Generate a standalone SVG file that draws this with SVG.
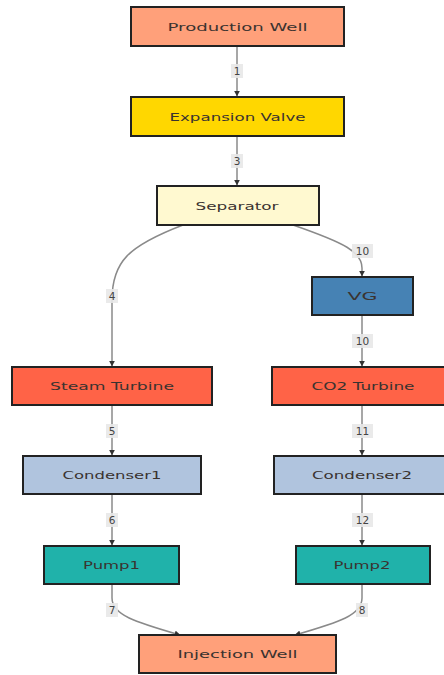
<svg xmlns="http://www.w3.org/2000/svg" width="444" height="675" viewBox="0 0 444 675">
<defs>
<style>
.node rect{stroke:#222;stroke-width:2}
.node text{font-family:"DejaVu Sans",Verdana,sans-serif;font-size:11px;fill:#3a3330;text-anchor:middle}
.edge{fill:none;stroke:#8a8a8a;stroke-width:1.5}
.lbl rect{fill:#e8e8e8;opacity:0.9}
.lbl text{font-family:"DejaVu Sans",Verdana,sans-serif;font-size:10.5px;fill:#444;text-anchor:middle}
</style>
<marker id="arr" viewBox="0 0 10 10" refX="9" refY="5" markerWidth="6" markerHeight="6" markerUnits="userSpaceOnUse" orient="auto">
<path d="M0,0 L10,5 L0,10 z" fill="#333"/>
</marker>
</defs>
<rect width="444" height="675" fill="#ffffff"/>
<g id="connectors">
<path class="edge" d="M237,46 L237,96" marker-end="url(#arr)"/>
<path class="edge" d="M237,136 L237,185" marker-end="url(#arr)"/>
<path class="edge" d="M183,225 C128,246 112,262 112,300 L112,366" marker-end="url(#arr)"/>
<path class="edge" d="M293,225 C345,243 362,252 362,268 L362,276" marker-end="url(#arr)"/>
<path class="edge" d="M362,315 L362,366" marker-end="url(#arr)"/>
<path class="edge" d="M112,405 L112,455" marker-end="url(#arr)"/>
<path class="edge" d="M362,405 L362,455" marker-end="url(#arr)"/>
<path class="edge" d="M112,494 L112,545" marker-end="url(#arr)"/>
<path class="edge" d="M362,494 L362,545" marker-end="url(#arr)"/>
<path class="edge" d="M112,584 L112,598 C112,615 135,622 180,635" marker-end="url(#arr)"/>
<path class="edge" d="M362,584 L362,598 C362,615 340,622 295,635" marker-end="url(#arr)"/>
<g class="lbl"><rect x="231" y="64" width="12" height="14"/><text x="237" y="75">1</text></g>
<g class="lbl"><rect x="231" y="154" width="12" height="14"/><text x="237" y="165">3</text></g>
<g class="lbl"><rect x="106" y="289" width="12" height="14"/><text x="112" y="300">4</text></g>
<g class="lbl"><rect x="352" y="244" width="21" height="14"/><text x="362.5" y="255">10</text></g>
<g class="lbl"><rect x="352" y="334" width="21" height="14"/><text x="362.5" y="345">10</text></g>
<g class="lbl"><rect x="106" y="424" width="12" height="14"/><text x="112" y="435">5</text></g>
<g class="lbl"><rect x="352" y="424" width="21" height="14"/><text x="362.5" y="435">11</text></g>
<g class="lbl"><rect x="106" y="513" width="12" height="14"/><text x="112" y="524">6</text></g>
<g class="lbl"><rect x="352" y="513" width="21" height="14"/><text x="362.5" y="524">12</text></g>
<g class="lbl"><rect x="106" y="603" width="12" height="14"/><text x="112" y="614">7</text></g>
<g class="lbl"><rect x="356" y="603" width="12" height="14"/><text x="362" y="614">8</text></g>
</g>
<g id="production-well" class="node"><rect x="131" y="7" width="213" height="39" fill="#ffa07a"/><text x="237.5" y="30.5" textLength="140" lengthAdjust="spacingAndGlyphs">Production Well</text></g>
<g id="expansion-valve" class="node"><rect x="131" y="97" width="213" height="39" fill="#ffd700"/><text x="237.5" y="120.5" textLength="136" lengthAdjust="spacingAndGlyphs">Expansion Valve</text></g>
<g id="separator" class="node"><rect x="157" y="186" width="162" height="39" fill="#fff9d0"/><text x="237" y="209.5" textLength="83" lengthAdjust="spacingAndGlyphs">Separator</text></g>
<g id="vg" class="node"><rect x="312" y="277" width="101" height="38" fill="#4682b4"/><text x="362.5" y="300" textLength="30" lengthAdjust="spacingAndGlyphs">VG</text></g>
<g id="steam-turbine" class="node"><rect x="12" y="367" width="200" height="38" fill="#ff6347"/><text x="112" y="390" textLength="124" lengthAdjust="spacingAndGlyphs">Steam Turbine</text></g>
<g id="co2-turbine" class="node"><rect x="272" y="367" width="182" height="38" fill="#ff6347"/><text x="363" y="390" textLength="103" lengthAdjust="spacingAndGlyphs">CO2 Turbine</text></g>
<g id="condenser1" class="node"><rect x="23" y="456" width="178" height="38" fill="#b0c4de"/><text x="112" y="479" textLength="99" lengthAdjust="spacingAndGlyphs">Condenser1</text></g>
<g id="condenser2" class="node"><rect x="274" y="456" width="178" height="38" fill="#b0c4de"/><text x="362" y="479" textLength="100" lengthAdjust="spacingAndGlyphs">Condenser2</text></g>
<g id="pump1" class="node"><rect x="44" y="546" width="135" height="38" fill="#20b2aa"/><text x="111.5" y="569" textLength="57" lengthAdjust="spacingAndGlyphs">Pump1</text></g>
<g id="pump2" class="node"><rect x="296" y="546" width="134" height="38" fill="#20b2aa"/><text x="362" y="569" textLength="57" lengthAdjust="spacingAndGlyphs">Pump2</text></g>
<g id="injection-well" class="node"><rect x="139" y="635" width="197" height="38" fill="#ffa07a"/><text x="237.5" y="658" textLength="120" lengthAdjust="spacingAndGlyphs">Injection Well</text></g>
</svg>
